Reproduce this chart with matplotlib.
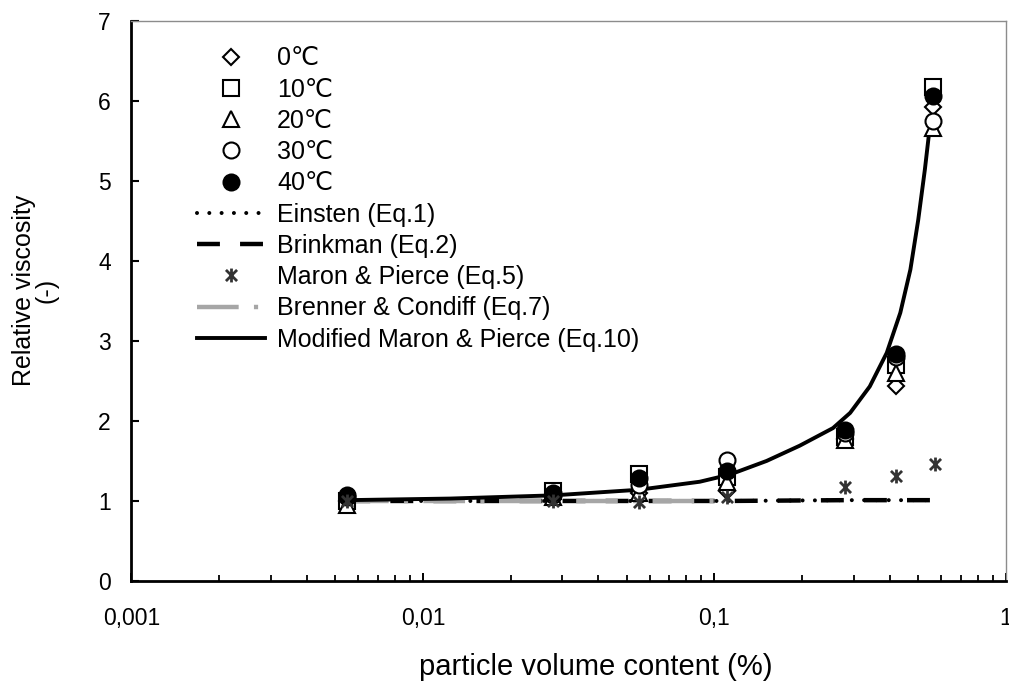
import numpy as np
import matplotlib
matplotlib.use("Agg")
import matplotlib.pyplot as plt
from matplotlib.path import Path

plt.rcParams['font.family'] = ['Liberation Sans', 'DejaVu Sans']
plt.rcParams['lines.scale_dashes'] = False

# particle volume content (%)
phi = [0.0055, 0.028, 0.055, 0.11, 0.28, 0.42, 0.56]

# measured relative viscosity
visc_0 = [1.00, 1.05, 1.10, 1.12, 1.78, 2.44, 5.92]
visc_10 = [1.00, 1.12, 1.34, 1.30, 1.80, 2.70, 6.17]
visc_20 = [0.95, 1.05, 1.10, 1.24, 1.76, 2.60, 5.66]
visc_30 = [1.05, 1.08, 1.20, 1.51, 1.85, 2.80, 5.75]
visc_40 = [1.07, 1.10, 1.29, 1.37, 1.89, 2.84, 6.06]

# models
model_phi = [0.0055, 0.028, 0.055, 0.11, 0.28, 0.42, 0.57]
einstein = [1.00, 1.00, 1.00, 1.00, 1.01, 1.01, 1.01]
brinkman = [1.00, 1.00, 1.00, 1.00, 1.01, 1.01, 1.01]
maron_pierce = [1.00, 1.00, 0.99, 1.05, 1.18, 1.31, 1.46]
brenner_phi = [0.0055, 0.028, 0.055, 0.11]
brenner = [1.00, 1.00, 1.00, 1.00]
mod_phi = [0.0055, 0.0124, 0.028, 0.055, 0.089, 0.113, 0.151, 0.196, 0.255,
           0.292, 0.341, 0.390, 0.434, 0.470, 0.500, 0.527, 0.545]
mod_mp = [1.01, 1.03, 1.07, 1.14, 1.24, 1.33, 1.50, 1.69, 1.91,
          2.10, 2.43, 2.85, 3.35, 3.89, 4.51, 5.14, 5.60]

# star marker: x with vertical bar
star = Path([(-0.8, -0.8), (0.8, 0.8), (-0.8, 0.8), (0.8, -0.8), (0, -1), (0, 1)],
            [Path.MOVETO, Path.LINETO, Path.MOVETO, Path.LINETO, Path.MOVETO, Path.LINETO])

fig = plt.figure(figsize=(10.09, 6.89), dpi=100)
ax = fig.add_axes([0.1303, 0.1567, 0.8667, 0.8135])

ax.plot(model_phi, einstein, color='black', lw=2.9, ls=(0, (0.01, 8.85)), dash_capstyle='round',
        label='Einsten (Eq.1)', zorder=2)
ax.plot(model_phi, brinkman, color='black', lw=3.2, ls=(0, (16.5, 14.5)), label='Brinkman (Eq.2)', zorder=2)
ax.plot(brenner_phi, brenner, color='#a6a6a6', lw=3.2, ls=(0, (30, 11, 3, 11)), label='Brenner & Condiff (Eq.7)', zorder=2)
ax.plot(mod_phi, mod_mp, color='black', lw=2.8, label='Modified Maron & Pierce (Eq.10)', zorder=2)

mk = dict(ls='none', mec='black', mew=1.5, zorder=3)
ax.plot(phi, visc_0, marker='D', ms=8.5, mfc='white', label='0℃', **mk)
ax.plot(phi, visc_10, marker='s', ms=11, mfc='white', label='10℃', **mk)
ax.plot(phi, visc_20, marker='^', ms=11.5, mfc='white', label='20℃', **mk)
ax.plot(phi, visc_30, marker='o', ms=11.5, mfc='white', label='30℃', **mk)
ax.plot(phi, visc_40, marker='o', ms=11.5, mfc='black', label='40℃', **mk)
ax.plot(model_phi, maron_pierce, ls='none', marker=star, ms=10, mec='#333333', mew=2,
        label='Maron & Pierce (Eq.5)', zorder=4)

ax.set_xscale('log')
ax.set_xlim(0.001, 1)
ax.set_ylim(0, 7)
ax.set_xticks([0.001, 0.01, 0.1, 1], ['0,001', '0,01', '0,1', '1'])
ax.set_yticks(range(8))
ax.tick_params(axis='x', which='major', direction='in', length=5.5, width=1.4, labelsize=16.5, pad=19)
ax.tick_params(axis='x', which='minor', direction='in', length=4, width=1.3)
ax.tick_params(axis='y', direction='in', length=6, width=1.5, labelsize=16.5, pad=15)
ax.xaxis.set_minor_formatter(plt.NullFormatter())

for s in ['left', 'bottom']:
    ax.spines[s].set_linewidth(2)
for s in ['top', 'right']:
    ax.spines[s].set_linewidth(1)
    ax.spines[s].set_color('#8c8c8c')

ax.set_xlabel('particle volume content (%)', fontsize=21)
ax.xaxis.set_label_coords(0.531, -0.128)
ax.set_ylabel('Relative viscosity\n(-)', fontsize=18, linespacing=0.95)
ax.yaxis.set_label_coords(-0.083, 0.519)

h, l = ax.get_legend_handles_labels()
order = ['0℃', '10℃', '20℃', '30℃', '40℃', 'Einsten (Eq.1)', 'Brinkman (Eq.2)',
         'Maron & Pierce (Eq.5)', 'Brenner & Condiff (Eq.7)', 'Modified Maron & Pierce (Eq.10)']
hd = dict(zip(l, h))
ax.legend([hd[k] for k in order], order, loc='upper left', bbox_to_anchor=(0.0749, 0.954),
          frameon=False, fontsize=18, handlelength=2.72, handletextpad=0.48, labelspacing=0.29,
          borderaxespad=0, borderpad=0)

fig.savefig('out.png', dpi=100)
